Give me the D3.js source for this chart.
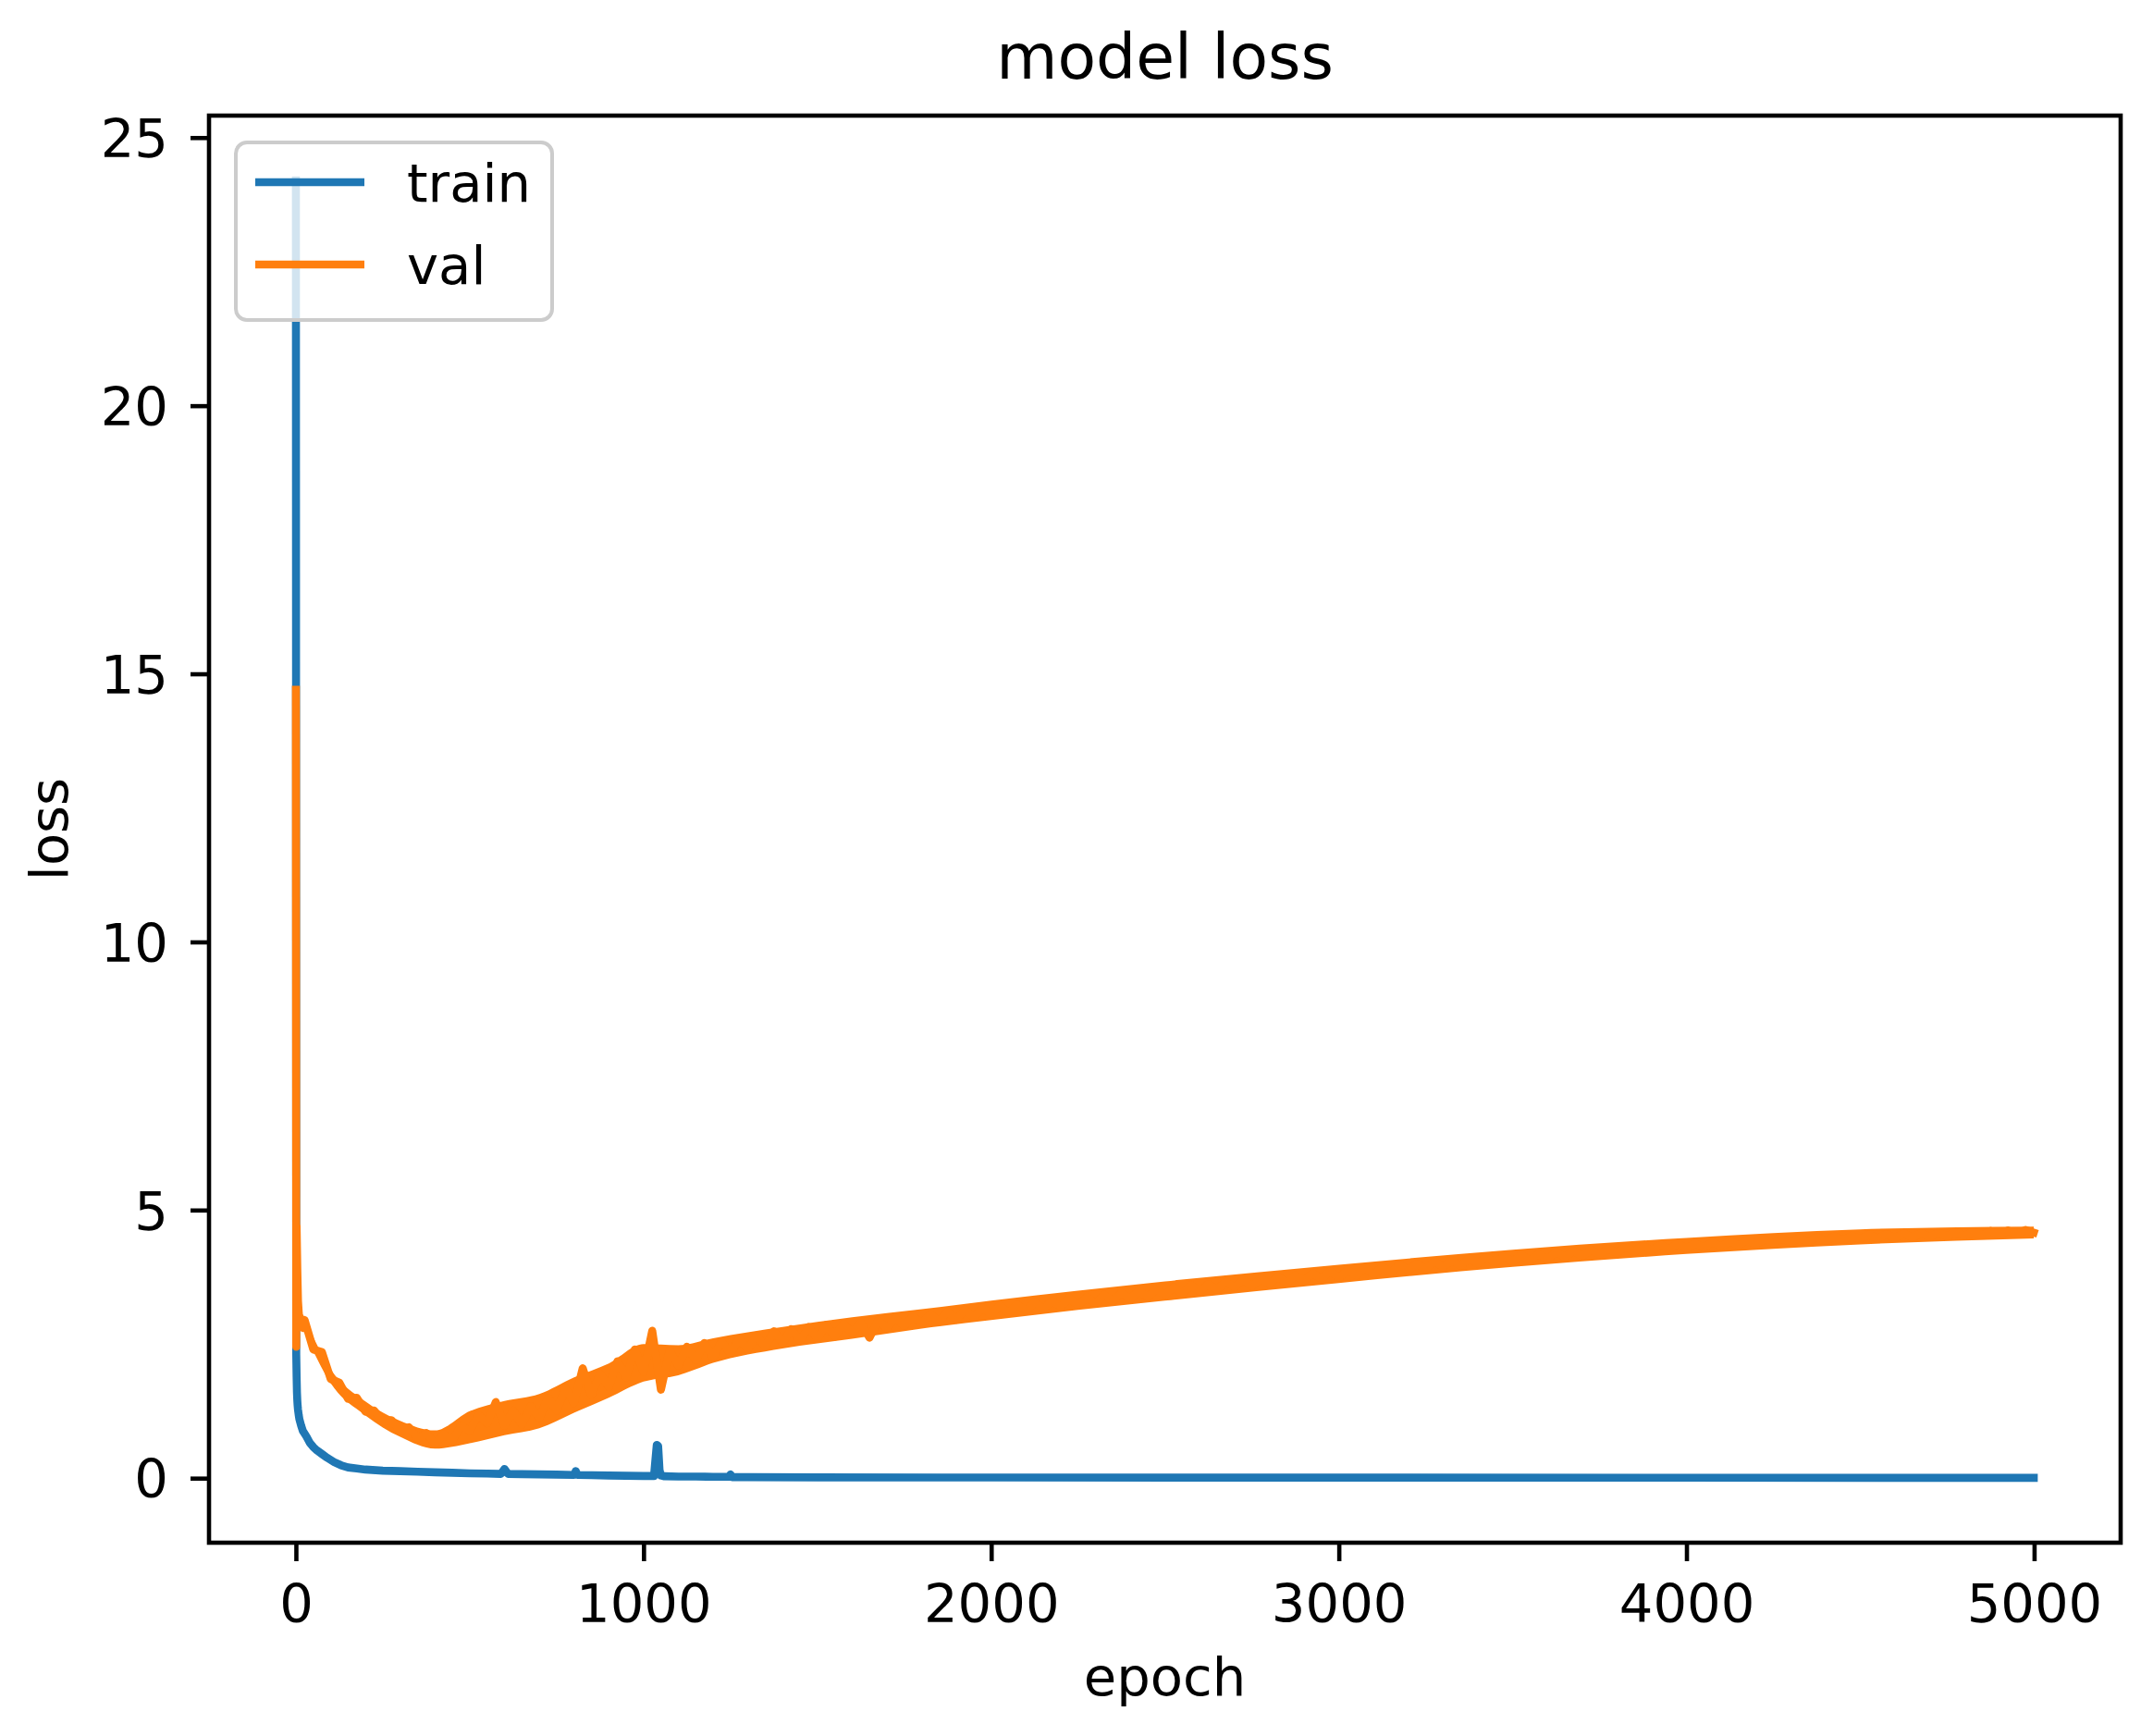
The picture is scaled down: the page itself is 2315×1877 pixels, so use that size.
<!DOCTYPE html>
<html>
<head>
<meta charset="utf-8">
<script src="https://cdn.jsdelivr.net/npm/d3@7"></script>
<style>
  html, body { margin: 0; padding: 0; background: #ffffff; }
  svg { display: block; }
  text { font-family: "DejaVu Sans", sans-serif; fill: #000; }
</style>
</head>
<body>
<svg id="chart" width="2315" height="1877"></svg>
<script>
// ---------------- DATA ----------------
const chartTitle = "model loss";
const xLabel = "epoch";
const yLabel = "loss";
const seriesNames = ["train", "val"];
const seriesColors = ["#1f77b4", "#ff7f0e"];
const xTicks = [0, 1000, 2000, 3000, 4000, 5000];
const yTicks = [0, 5, 10, 15, 20, 25];

// train loss (mostly smooth, read at irregular epochs)
const trainEpochs = [0,1,2,3,4,5,6,8,10,15,20,30,40,50,60,75,90,110,130,150,175,200,250,300,350,400,450,500,550,590,600,610,650,700,750,800,805,810,850,900,950,1000,1030,1038,1042,1046,1050,1060,1100,1150,1200,1245,1250,1255,1300,1500,2000,3000,4000,4999];
const trainLoss = [24.2,2.3,1.9,1.6,1.45,1.35,1.28,1.18,1.1,0.98,0.88,0.78,0.66,0.58,0.52,0.45,0.38,0.3,0.24,0.2,0.18,0.16,0.14,0.13,0.12,0.11,0.1,0.09,0.085,0.08,0.17,0.08,0.075,0.07,0.065,0.06,0.13,0.06,0.055,0.05,0.045,0.04,0.04,0.62,0.6,0.15,0.05,0.035,0.03,0.03,0.025,0.025,0.07,0.02,0.02,0.015,0.012,0.01,0.008,0.006];

// val loss: first epochs read individually
const valEarlyEpochs = [0,1,2,3,4,5,6,8,10,12,15,18,21];
const valEarlyLoss = [14.7,2.45,4.7,4.3,3.9,3.6,3.3,3.1,2.95,3.0,2.85,2.9,2.8];
// val loss read every 25 epochs from 25 to 4975, then the last epoch (4999)
const valEpochStep = 25;
const valLoss = [
  2.95,2.40,2.35,1.85,1.78,1.48,1.50,1.24,1.26,1.05,1.08,0.88,0.95,0.74,0.84,0.64,0.82,0.70,0.98,0.88,
  1.18,1.02,1.42,0.98,1.26,1.00,1.34,1.12,1.50,1.26,1.68,1.40,2.05,1.55,1.95,1.70,2.18,1.88,2.40,1.98,
  2.75,1.65,2.38,2.10,2.45,2.20,2.52,2.25,2.55,2.32,2.60,2.40,2.66,2.45,2.74,2.52,2.78,2.56,2.82,2.60,
  2.86,2.64,2.88,2.70,2.90,2.62,2.94,2.80,2.98,2.84,3.02,2.88,3.06,2.92,3.10,2.96,3.14,3.00,3.18,3.05,
  3.22,3.08,3.24,3.12,3.28,3.16,3.30,3.20,3.36,3.22,3.38,3.26,3.42,3.30,3.45,3.34,3.50,3.38,3.52,3.42,
  3.56,3.44,3.60,3.48,3.62,3.52,3.66,3.56,3.70,3.58,3.72,3.62,3.76,3.64,3.78,3.68,3.82,3.72,3.86,3.74,
  3.88,3.78,3.92,3.80,3.94,3.84,3.98,3.88,4.00,3.90,4.04,3.94,4.06,3.96,4.10,4.00,4.12,4.02,4.14,4.04,
  4.16,4.06,4.18,4.08,4.22,4.12,4.24,4.14,4.26,4.18,4.28,4.20,4.32,4.22,4.34,4.24,4.36,4.26,4.38,4.28,
  4.38,4.30,4.40,4.32,4.42,4.34,4.44,4.36,4.46,4.38,4.47,4.40,4.48,4.40,4.50,4.42,4.51,4.44,4.52,4.46,
  4.54,4.47,4.55,4.48,4.56,4.49,4.57,4.50,4.58,4.51,4.59,4.52,4.60,4.53,4.61,4.54,4.62,4.55,4.63
];
const valLastEpoch = 4999;
const valLastLoss = 4.58;

// spread of the noisy val trace (visible lower / upper edge of the band)
const valBandEpochs = [25,100,200,300,400,500,600,700,800,900,1000,1100,1200,1400,1600,1800,2000,2500,3000,3500,4000,4500,4999];
const valBandLow  = [2.72,1.77,1.17,0.77,0.55,0.65,0.80,0.93,1.22,1.50,1.80,1.92,2.15,2.42,2.60,2.79,2.95,3.31,3.64,3.94,4.18,4.36,4.47];
const valBandHigh = [2.98,2.03,1.43,1.07,0.89,1.25,1.44,1.57,1.88,2.14,2.50,2.48,2.61,2.82,3.00,3.15,3.31,3.67,3.98,4.26,4.48,4.64,4.69];

(function () {
// ---------------- BUILD SERIES ----------------
const trainData = trainEpochs.map((e, i) => ({ x: e, y: trainLoss[i] }));
const valData = valEarlyEpochs.map((e, i) => ({ x: e, y: valEarlyLoss[i] }))
  .concat(valLoss.map((v, i) => ({ x: (i + 1) * valEpochStep, y: v })))
  .concat([{ x: valLastEpoch, y: valLastLoss }]);
const bandData = valBandEpochs.map((e, i) => ({ x: e, lo: valBandLow[i], hi: valBandHigh[i] }));

// ---------------- LAYOUT ----------------
const svg = d3.select("#chart");
const pLeft = 226, pRight = 2293, pTop = 125, pBottom = 1668;
const fs = 57.6;        // tick / label font size (10pt)
const lw = 8.65;        // line width (1.5pt)
const spineW = 4.6;     // 0.8pt

const x = d3.scaleLinear().domain([-249.95, 5248.95]).range([pLeft, pRight]);
const allY = trainLoss.concat(valLoss, valEarlyLoss);
const yMin = d3.min(allY), yMax = d3.max(allY);
const yPad = 0.05 * (yMax - yMin);
const y = d3.scaleLinear().domain([yMin - yPad, yMax + yPad]).range([pBottom, pTop]);

// lines
const line = d3.line().x(d => x(d.x)).y(d => y(d.y));
const plot = svg.append("g");
plot.append("path")
  .datum(trainData)
  .attr("d", line)
  .attr("fill", "none")
  .attr("stroke", seriesColors[0])
  .attr("stroke-width", lw)
  .attr("stroke-linejoin", "round")
  .attr("stroke-linecap", "square");

const band = d3.area().x(d => x(d.x)).y0(d => y(d.lo)).y1(d => y(d.hi)).curve(d3.curveMonotoneX);
plot.append("path")
  .datum(bandData)
  .attr("d", band)
  .attr("fill", seriesColors[1])
  .attr("stroke", "none");

plot.append("path")
  .datum(valData)
  .attr("d", line)
  .attr("fill", "none")
  .attr("stroke", seriesColors[1])
  .attr("stroke-width", lw)
  .attr("stroke-linejoin", "round")
  .attr("stroke-linecap", "square");

// axes
const xAxis = d3.axisBottom(x).tickValues(xTicks).tickSize(20).tickPadding(18).tickFormat(d3.format("d"));
const yAxis = d3.axisLeft(y).tickValues(yTicks).tickSize(20).tickPadding(20).tickFormat(d3.format("d"));

const gx = svg.append("g").attr("transform", `translate(0,${pBottom})`).call(xAxis);
const gy = svg.append("g").attr("transform", `translate(${pLeft},0)`).call(yAxis);
[gx, gy].forEach(g => {
  g.select(".domain").remove();
  g.selectAll(".tick line").attr("stroke", "#000").attr("stroke-width", spineW);
  g.selectAll(".tick text").attr("font-size", fs).attr("font-family", "DejaVu Sans").attr("fill", "#000");
});
gx.selectAll(".tick text").attr("dy", null).attr("y", 86);
gy.selectAll(".tick text").attr("dy", "0.36em").attr("x", -44);

// spines
svg.append("rect")
  .attr("x", pLeft).attr("y", pTop)
  .attr("width", pRight - pLeft).attr("height", pBottom - pTop)
  .attr("fill", "none").attr("stroke", "#000").attr("stroke-width", spineW);

// title and labels
svg.append("text").attr("x", (pLeft + pRight) / 2).attr("y", 85)
  .attr("text-anchor", "middle").attr("font-size", 68).text(chartTitle);
svg.append("text").attr("x", (pLeft + pRight) / 2).attr("y", 1833)
  .attr("text-anchor", "middle").attr("font-size", fs).text(xLabel);
svg.append("text").attr("transform", `translate(73,${(pTop + pBottom) / 2}) rotate(-90)`)
  .attr("text-anchor", "middle").attr("font-size", fs).text(yLabel);

// legend
const lg = svg.append("g");
lg.append("rect")
  .attr("x", 255).attr("y", 154).attr("width", 342).attr("height", 192)
  .attr("rx", 12).attr("ry", 12)
  .attr("fill", "#ffffff").attr("fill-opacity", 0.8)
  .attr("stroke", "#cccccc").attr("stroke-width", 4);
const legendRows = [197, 286];
seriesNames.forEach((name, i) => {
  lg.append("line")
    .attr("x1", 276).attr("x2", 394)
    .attr("y1", legendRows[i]).attr("y2", legendRows[i])
    .attr("stroke", seriesColors[i]).attr("stroke-width", lw);
  lg.append("text")
    .attr("x", 440).attr("y", legendRows[i] + 21)
    .attr("font-size", fs).text(name);
});
})();
</script>
</body>
</html>
